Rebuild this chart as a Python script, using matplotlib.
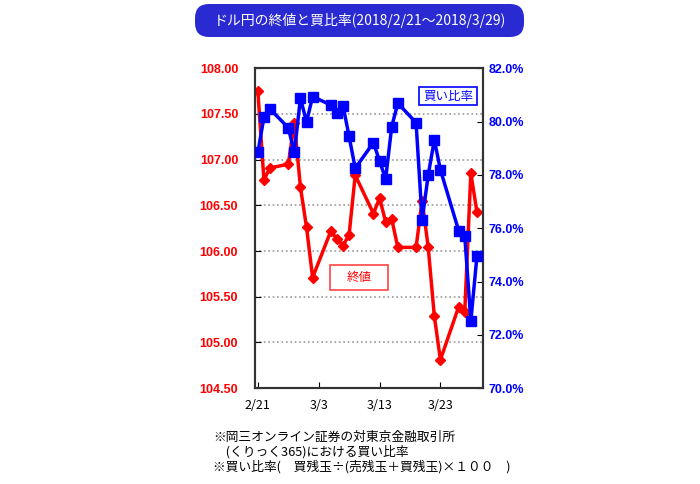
import matplotlib
matplotlib.use('Agg')
import matplotlib.pyplot as plt
from matplotlib.patches import FancyBboxPatch, Rectangle
import pandas as pd

plt.rcParams['font.family'] = ['Noto Sans CJK JP', 'DejaVu Sans']

# データ
dates = pd.to_datetime([
    '2018-02-21', '2018-02-22', '2018-02-23', '2018-02-26', '2018-02-27',
    '2018-02-28', '2018-03-01', '2018-03-02', '2018-03-05', '2018-03-06',
    '2018-03-07', '2018-03-08', '2018-03-09', '2018-03-12', '2018-03-13',
    '2018-03-14', '2018-03-15', '2018-03-16', '2018-03-19', '2018-03-20',
    '2018-03-21', '2018-03-22', '2018-03-23', '2018-03-26', '2018-03-27',
    '2018-03-28', '2018-03-29'])
close = [107.75, 106.78, 106.91, 106.95, 107.40, 106.70, 106.26, 105.71,
         106.22, 106.13, 106.06, 106.18, 106.83, 106.41, 106.58, 106.32,
         106.35, 106.04, 106.04, 106.55, 106.04, 105.29, 104.81, 105.39,
         105.33, 106.85, 106.43]
buy_ratio = [78.84, 80.16, 80.47, 79.77, 78.84, 80.88, 79.98, 80.94,
             80.62, 80.34, 80.59, 79.44, 78.25, 79.21, 78.52, 77.85,
             79.81, 80.69, 79.96, 76.31, 78.00, 79.31, 78.19, 75.91,
             75.72, 72.52, 74.94]

left_ticks = [104.5, 105.0, 105.5, 106.0, 106.5, 107.0, 107.5, 108.0]
right_ticks = [70, 72, 74, 76, 78, 80, 82]
x_ticks = pd.to_datetime(['2018-02-21', '2018-03-03', '2018-03-13', '2018-03-23'])
x_labels = ['2/21', '3/3', '3/13', '3/23']

title = 'ドル円の終値と買比率(2018/2/21～2018/3/29)'
notes = ['※岡三オンライン証券の対東京金融取引所',
         '　(くりっく365)における買い比率',
         '※買い比率(　買残玉÷(売残玉＋買残玉)×１００　)']

fig = plt.figure(figsize=(7, 4.84), dpi=100)
ax = fig.add_axes([0.364, 0.198, 0.326, 0.661])
ax2 = ax.twinx()

ax.plot(dates, close, color='#ff0000', lw=2.5, marker='D', ms=5.5, zorder=3)
ax2.plot(dates, buy_ratio, color='#0000ff', lw=2.5, marker='s', ms=6.5, zorder=3)

ax.set_xlim(pd.Timestamp('2018-02-20 12:00'), pd.Timestamp('2018-03-30'))
ax.set_ylim(104.5, 108.0)
ax2.set_ylim(70, 82)

ax.set_yticks(left_ticks)
ax.set_yticklabels(['%.2f' % v for v in left_ticks], color='#ff0000',
                   fontweight='bold', fontsize=9, family='Liberation Sans')
ax2.set_yticks(right_ticks)
ax2.set_yticklabels(['%.1f%%' % v for v in right_ticks], color='#0000ff',
                    fontweight='bold', fontsize=9, family='Liberation Sans')
ax.set_xticks(x_ticks)
ax.set_xticklabels(x_labels, fontsize=9)

ax.tick_params(axis='y', direction='in', length=4, pad=12)
ax2.tick_params(axis='y', direction='in', length=4, pad=4)
ax.tick_params(axis='x', direction='in', length=4, pad=8)

ax.yaxis.grid(True, color='#999999', linestyle=':', lw=1.2)
for a in (ax, ax2):
    for s in a.spines.values():
        s.set_color('#333333')
        s.set_linewidth(1.5)

# 凡例ボックス
fig.add_artist(Rectangle((419 / 700, 1 - 105 / 484), 58 / 700, 18 / 484,
                         transform=fig.transFigure, fc='white', ec='#0000ff', lw=1.2))
fig.text(448 / 700, 1 - 96 / 484, '買い比率', color='#0000ff', fontsize=9,
         ha='center', va='center')
fig.add_artist(Rectangle((330 / 700, 1 - 290 / 484), 58 / 700, 25 / 484,
                         transform=fig.transFigure, fc='white', ec='#ff4444', lw=1.2))
fig.text(359 / 700, 1 - 277.5 / 484, '終値', color='#ff0000', fontsize=9,
         ha='center', va='center')

# タイトル
fig.add_artist(FancyBboxPatch((1.95, 4.47), 3.29, 0.33,
                              boxstyle='round,pad=0,rounding_size=0.14',
                              transform=fig.dpi_scale_trans,
                              fc='#2a2ad2', ec='none'))
fig.text(360 / 700, 1 - 20 / 484, title, color='white', fontsize=10,
         ha='center', va='center')

# 注記
for i, line in enumerate(notes):
    fig.text(213 / 700, 1 - (437 + 15 * i) / 484, line, fontsize=9.2,
             ha='left', va='center')

fig.savefig('out.png', dpi=100)
